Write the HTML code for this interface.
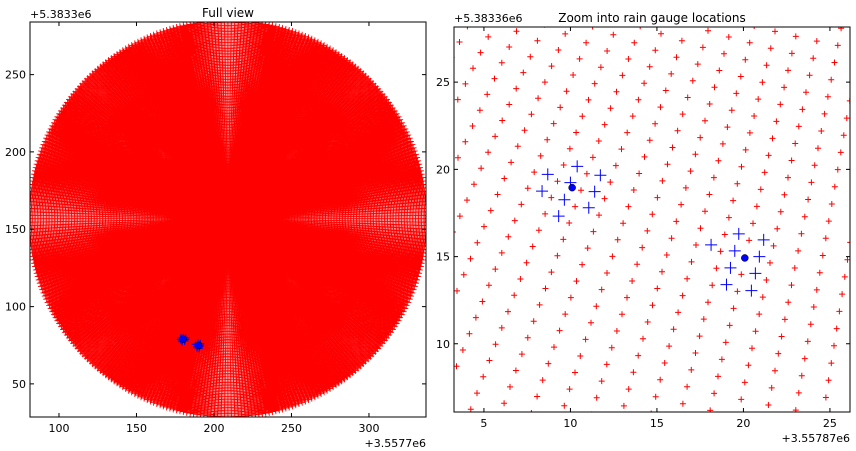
<!DOCTYPE html>
<html><head><meta charset="utf-8"><style>
html,body{margin:0;padding:0;background:#fff;}
svg{display:block;font-family:"DejaVu Sans","Liberation Sans",sans-serif;}
</style></head><body>
<svg id="fig" width="856" height="451" viewBox="0 0 856 451">
<defs>
<clipPath id="clipL"><rect x="30" y="22" width="396" height="395"/></clipPath>
<clipPath id="clipR"><rect x="454" y="27" width="396" height="385"/></clipPath>
</defs>
<rect width="856" height="451" fill="#fff"/>
<g id="left"></g>
<g id="right"></g>
</svg>
<script>
// radar grid geometry (left-panel coordinates)
const gridCenter = [209, 156.8];
const rangeMax = 128;
// rain gauge locations (left-panel coordinates: +3.5577e6, +5.3833e6)
const gaugeX = [180.1, 190.08];
const gaugeY = [78.95, 74.92];
// subgrid points around gauges (right-panel coordinates: +3.55787e6, +5.38336e6)
const subX = [10.39, 8.69, 11.73, 10.0, 8.36, 11.40, 9.65, 11.06, 9.32,
              19.73, 21.17, 18.13, 19.50, 20.92, 19.25, 20.69, 19.02, 20.46];
const subY = [20.17, 19.71, 19.66, 19.24, 18.75, 18.72, 18.26, 17.80, 17.32,
              16.30, 15.96, 15.67, 15.33, 15.0, 14.35, 14.04, 13.39, 13.05];
const leftXTicks = [100, 150, 200, 250, 300];
const leftYTicks = [50, 100, 150, 200, 250];
const rightXTicks = [5, 10, 15, 20, 25];
const rightYTicks = [10, 15, 20, 25];

const NS = "http://www.w3.org/2000/svg";
function mk(tag, attrs, parent){const e=document.createElementNS(NS,tag);for(const k in attrs)e.setAttribute(k,attrs[k]);parent.appendChild(e);return e;}
function lin(d0,d1,r0,r1){return v=>r0+(v-d0)*(r1-r0)/(d1-d0);}

function panel(g, box, xd, yd, offX, offY, xTicks, yTicks, title, xOffTxt, yOffTxt, redSize, redW, blueSize, dotR, clip, titleY, yOffY){
  const sx = lin(xd[0], xd[1], box.x, box.x+box.w);
  const sy = lin(yd[0], yd[1], box.y+box.h, box.y);
  const plot = mk('g',{'clip-path':'url(#'+clip+')'},g);
  
  
  let d='';
  const h=redSize/2;
  for(let a=0;a<360;a++){
    const th=a*Math.PI/180, c=Math.cos(th), s=Math.sin(th);
    for(let r=1;r<=rangeMax;r++){
      const X=gridCenter[0]+r*s-offX, Y=gridCenter[1]+r*c-offY;
      if(X<xd[0]-1||X>xd[1]+1||Y<yd[0]-1||Y>yd[1]+1)continue;
      const px=sx(X), py=sy(Y);
      d+='M'+(px-h).toFixed(1)+' '+py.toFixed(1)+'h'+redSize+'M'+px.toFixed(1)+' '+(py-h).toFixed(1)+'v'+redSize;
    }
  }
  const grid = mk('path',{d:d,stroke:'#ff0000','stroke-width':redW,fill:'none'},plot);
  
  
  for(let i=0;i<subX.length;i++){
    const X=subX[i]+170-offX, Y=subY[i]+60-offY;
    const px=sx(X), py=sy(Y), b=blueSize/2;
    const p=mk('path',{d:`M${px-b} ${py}h${blueSize}M${px} ${py-b}v${blueSize}`,stroke:'#0000ff','stroke-width':1,fill:'none'},plot);
    
    
  }
  for(let i=0;i<gaugeX.length;i++){
    const c=mk('circle',{cx:sx(gaugeX[i]-offX),cy:sy(gaugeY[i]-offY),r:dotR,fill:'#0000ff',stroke:'#000','stroke-width':0.5},plot);
    
    
  }
  const fr=mk('rect',{x:box.x,y:box.y,width:box.w,height:box.h,fill:'none',stroke:'#000','stroke-width':1},g);
  
  
  const ax=mk('g',{},g);
  
  
  for(const t of xTicks){
    const px=sx(t);
    mk('path',{d:`M${px} ${box.y+box.h}v-4M${px} ${box.y}v4`,stroke:'#000','stroke-width':1},ax);
    const tx=mk('text',{x:px,y:box.y+box.h+15,'text-anchor':'middle','font-size':11},ax);
    tx.textContent=t;
    
    
  }
  const ay=mk('g',{},g);
  
  
  for(const t of yTicks){
    const py=sy(t);
    mk('path',{d:`M${box.x} ${py}h4M${box.x+box.w} ${py}h-4`,stroke:'#000','stroke-width':1},ay);
    const ty=mk('text',{x:box.x-4,y:py+4,'text-anchor':'end','font-size':11},ay);
    ty.textContent=t;
    
    
  }
  const ti=mk('text',{x:box.x+box.w/2,y:titleY,'text-anchor':'middle','font-size':12},g);
  ti.textContent=title;
  
  
  const ox=mk('text',{x:box.x+box.w,y:box.y+box.h+30,'text-anchor':'end','font-size':11},g);
  ox.textContent=xOffTxt;
  
  
  const oy=mk('text',{x:box.x,y:yOffY,'text-anchor':'start','font-size':11},g);
  oy.textContent=yOffTxt;
  
  
}

panel(document.getElementById('left'),{x:30,y:22,w:396,h:395},[81.3,336.8],[28.6,284],0,0,
  leftXTicks,leftYTicks,'Full view','+3.5577e6','+5.3833e6',7,0.85,8,3.5,'clipL',17,18);
panel(document.getElementById('right'),{x:454,y:27,w:396,h:385},[3.27,26.16],[6.09,28.16],170,60,
  rightXTicks,rightYTicks,'Zoom into rain gauge locations','+3.55787e6','+5.38336e6',6,1,12,3.5,'clipR',22,22);
</script>
</body></html>
